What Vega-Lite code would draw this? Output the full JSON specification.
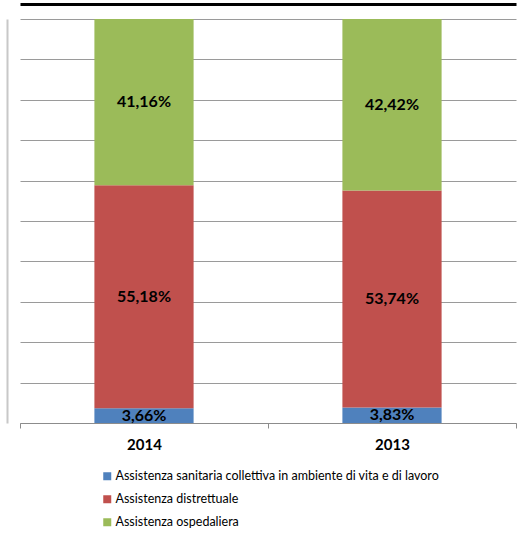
{
  "$schema": "https://vega.github.io/schema/vega-lite/v6.json",
  "width": 496,
  "height": 404,
  "autosize": {"type": "none"},
  "padding": {"left": 20, "top": 19, "right": 12, "bottom": 113},
  "background": "white",
  "config": {
    "view": {"stroke": null},
    "font": "Lato",
    "locale": {"number": {"decimal": ",", "thousands": ".", "grouping": [3], "currency": ["€", ""]}}
  },
  "data": {
    "values": [
      {"anno": "2014", "serie": "Assistenza sanitaria collettiva in ambiente di vita e di lavoro", "rank": 1, "quota": 0.0366},
      {"anno": "2014", "serie": "Assistenza distrettuale", "rank": 2, "quota": 0.5518},
      {"anno": "2014", "serie": "Assistenza ospedaliera", "rank": 3, "quota": 0.4116},
      {"anno": "2013", "serie": "Assistenza sanitaria collettiva in ambiente di vita e di lavoro", "rank": 1, "quota": 0.0383},
      {"anno": "2013", "serie": "Assistenza distrettuale", "rank": 2, "quota": 0.5374},
      {"anno": "2013", "serie": "Assistenza ospedaliera", "rank": 3, "quota": 0.4242}
    ]
  },
  "transform": [
    {"stack": "quota", "groupby": ["anno"], "sort": [{"field": "rank", "order": "ascending"}], "as": ["q0", "q1"]},
    {"calculate": "(datum.q0 + datum.q1) / 2", "as": "qmid"}
  ],
  "encoding": {
    "x": {
      "field": "anno", "type": "nominal", "sort": ["2014", "2013"],
      "scale": {"paddingInner": 0, "paddingOuter": 0}
    }
  },
  "layer": [
    {
      "mark": {"type": "bar", "width": {"band": 0.4}},
      "encoding": {
        "x": {
          "field": "anno", "type": "nominal", "sort": ["2014", "2013"],
          "axis": {
            "title": null, "labelAngle": 0, "labelFontSize": 15, "labelFontWeight": "bold",
            "labelColor": "black", "labelPadding": 9, "tickBand": "extent", "tickSize": 5,
            "tickColor": "#8c8c8c", "domainColor": "#8c8c8c", "grid": false
          }
        },
        "y": {
          "field": "q0", "type": "quantitative",
          "scale": {"domain": [0, 1], "nice": false},
          "axis": {
            "title": null, "labels": false, "ticks": false,
            "values": [0, 0.1, 0.2, 0.3, 0.4, 0.5, 0.6, 0.7, 0.8, 0.9, 1],
            "grid": true, "gridColor": "#9a9a9a", "gridWidth": 1,
            "domain": true, "domainColor": "#c8c8c8", "domainWidth": 2, "offset": 13
          }
        },
        "y2": {"field": "q1"},
        "color": {
          "field": "serie", "type": "nominal",
          "scale": {
            "domain": ["Assistenza sanitaria collettiva in ambiente di vita e di lavoro", "Assistenza distrettuale", "Assistenza ospedaliera"],
            "range": ["#4F81BD", "#C0504D", "#9BBB59"]
          },
          "legend": {
            "title": null, "orient": "none", "legendX": 81, "legendY": 451, "direction": "vertical",
            "symbolType": "square", "symbolSize": 64, "symbolStrokeWidth": 0, "symbolOpacity": 1,
            "labelFontSize": 12.5, "labelColor": "black", "labelOffset": 2, "rowPadding": 10,
            "labelLimit": 500
          }
        }
      }
    },
    {
      "mark": {"type": "text", "fontSize": 16, "fontWeight": "bold", "color": "black", "baseline": "middle"},
      "encoding": {
        "x": {
          "field": "anno", "type": "nominal", "sort": ["2014", "2013"],
          "axis": {
            "orient": "top", "title": null, "labels": false, "ticks": false, "grid": false,
            "domain": true, "domainColor": "black", "domainWidth": 3, "offset": 15
          }
        },
        "y": {"field": "qmid", "type": "quantitative"},
        "text": {"field": "quota", "type": "quantitative", "format": ".2%"}
      }
    }
  ],
  "resolve": {"axis": {"x": "independent"}}
}
